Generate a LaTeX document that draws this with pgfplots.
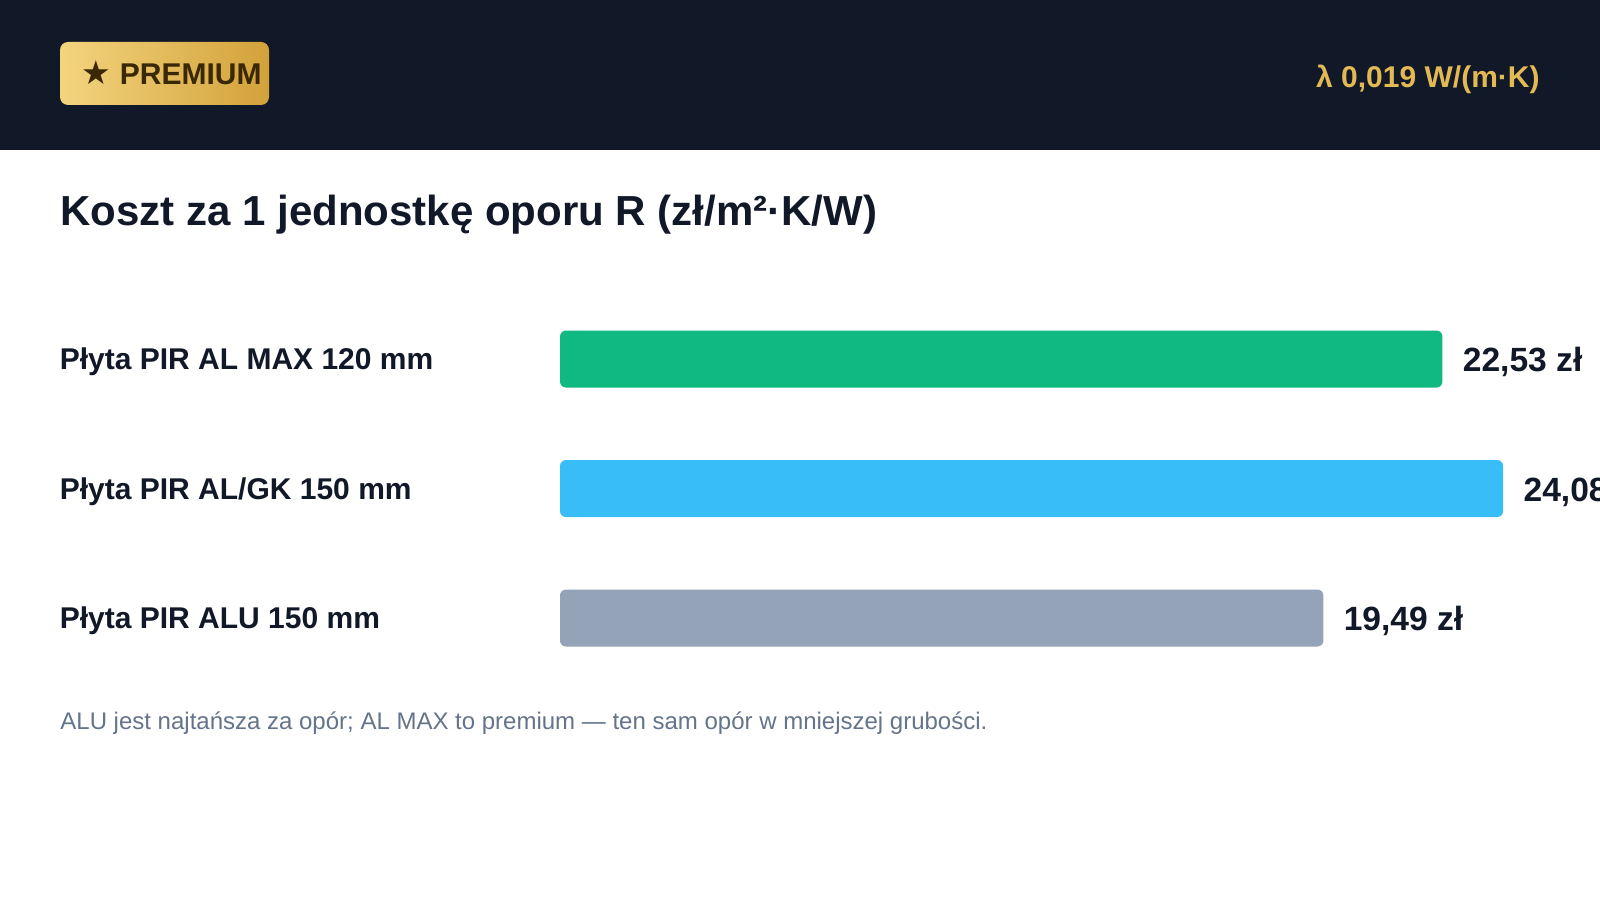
\documentclass[border=0pt]{standalone}
\usepackage{pgfplots}
\pgfplotsset{compat=1.18}
\usepackage{fontspec}
\setmainfont{Liberation Sans}
\newfontfamily\symfont{DejaVu Sans}

\definecolor{navy}{HTML}{111827}
\definecolor{goldL}{HTML}{F3D47E}
\definecolor{goldR}{HTML}{D2A23A}
\definecolor{goldText}{HTML}{3A2804}
\definecolor{goldLam}{HTML}{E2B953}
\definecolor{barGreen}{HTML}{10B981}
\definecolor{barBlue}{HTML}{38BDF8}
\definecolor{barGray}{HTML}{94A3B8}
\definecolor{noteGray}{HTML}{64748B}

\begin{document}
\begin{tikzpicture}
  \useasboundingbox (0,0) rectangle (800pt,450pt);
  \clip (0,0) rectangle (800pt,450pt);
  \fill[white] (0,0) rectangle (800pt,450pt);
  % header band
  \fill[navy] (0,375pt) rectangle (800pt,450pt);
  \shade[left color=goldL, right color=goldR, rounded corners=4pt]
    (30pt,397.5pt) rectangle (134.5pt,429pt);
  \node[anchor=west, inner sep=0pt, text=goldText,
        font=\fontsize{15}{17}\selectfont\bfseries]
    at (40.5pt,413.5pt) {{\symfont\mdseries\fontsize{16.5}{17}\selectfont ★}\hspace{0.3pt} PREMIUM};
  \node[anchor=base east, inner sep=0pt, text=goldLam,
        font=\fontsize{15}{17}\selectfont\bfseries]
    at (770pt,406pt) {λ 0,019 W/(m·K)};
  % title
  \node[anchor=base west, inner sep=0pt, text=navy,
        font=\fontsize{21}{25}\selectfont\bfseries]
    at (30pt,337pt) {Koszt za 1 jednostkę oporu R (zł/m²·K/W)};

  \begin{axis}[
      at={(280pt,108.6pt)}, anchor=south west,
      scale only axis,
      width=489.6pt, height=194.25pt,
      xmin=0, xmax=25,
      ymin=-0.5, ymax=2.5,
      y dir=reverse,
      xbar,
      bar width=28.5pt,
      bar shift=0pt,
      axis line style={draw=none},
      tick style={draw=none},
      xtick=\empty,
      ytick={0,1,2},
      yticklabels={Płyta PIR AL MAX 120 mm, Płyta PIR AL/GK 150 mm, Płyta PIR ALU 150 mm},
      yticklabel style={anchor=west, inner sep=0pt, xshift=-246pt, yshift=-1.5pt,
        font=\fontsize{15}{18}\selectfont\bfseries, text=navy},
      clip=false,
      point meta=explicit symbolic,
      nodes near coords={\pgfplotspointmeta},
      nodes near coords style={anchor=west, inner sep=0pt, xshift=10pt, yshift=-1.5pt,
        font=\fontsize{16.8}{19}\selectfont\bfseries, text=navy},
    ]
    \addplot[fill=barGreen, draw=none, rounded corners=3pt]
      coordinates {(22.53,0) [22,53 zł]};
    \addplot[fill=barBlue, draw=none, rounded corners=3pt]
      coordinates {(24.08,1) [24,08 zł]};
    \addplot[fill=barGray, draw=none, rounded corners=3pt]
      coordinates {(19.49,2) [19,49 zł]};
  \end{axis}

  % footnote
  \node[anchor=base west, inner sep=0pt, text=noteGray,
        font=\fontsize{12}{14}\selectfont]
    at (30pt,85.5pt) {ALU jest najtańsza za opór; AL MAX to premium — ten sam opór w mniejszej grubości.};
\end{tikzpicture}
\end{document}
